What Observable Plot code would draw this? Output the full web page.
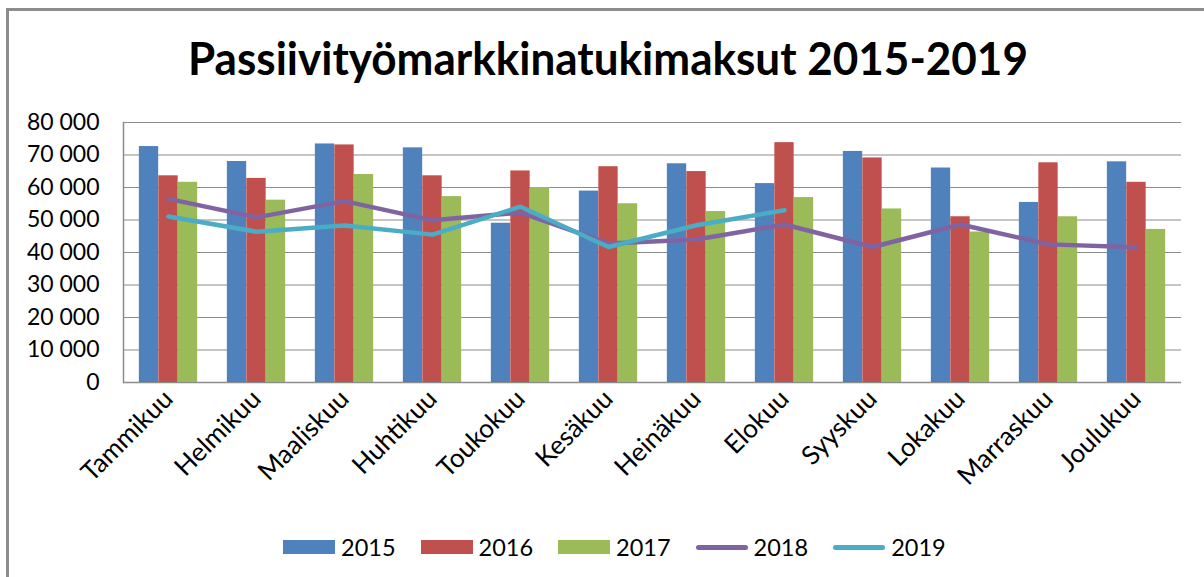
<!DOCTYPE html>
<html><head><meta charset="utf-8">
<script src="https://cdn.jsdelivr.net/npm/d3@7"></script>
<script src="https://cdn.jsdelivr.net/npm/@observablehq/plot@0.6"></script>
<style>
body{margin:0;background:#fff;font-family:Lato,"Open Sans",sans-serif;}
#wrap{position:relative;width:1204px;height:577px;overflow:hidden;background:#fff;}
#border{position:absolute;left:6px;top:8px;width:1400px;height:800px;border-top:3px solid #8c8c8c;border-left:3px solid #8c8c8c;box-sizing:border-box;}
#title{position:absolute;left:6px;top:28px;width:1204px;text-align:center;font-weight:700;font-size:46px;line-height:60px;color:#000;transform:scaleX(0.957);transform-origin:602px 0;}
#chart{position:absolute;left:0;top:100px;}
#legend{position:absolute;left:283px;top:525px;height:44px;display:flex;align-items:center;font-size:23.5px;color:#000;}
.item{display:flex;align-items:center;margin-right:25px;}
.sw{width:52px;height:14px;margin-right:6px;}
.ln{width:52px;height:5px;border-radius:3px;margin-right:6px;}
</style></head>
<body>
<div id="wrap">
<div id="border"></div>
<div id="title">Passiivityömarkkinatukimaksut 2015-2019</div>
<div id="chart"></div>
<div id="legend"></div>
</div>
<script>
const months = ["Tammikuu","Helmikuu","Maaliskuu","Huhtikuu","Toukokuu","Kesäkuu","Heinäkuu","Elokuu","Syyskuu","Lokakuu","Marraskuu","Joulukuu"];
const v2015 = [72600,68000,73400,72200,49000,58900,67300,61200,71100,66000,55400,67900];
const v2016 = [63600,62800,73100,63600,65100,66400,64900,73800,69100,51000,67600,61600];
const v2017 = [61600,56100,64000,57200,60000,55000,52600,56900,53400,46300,51000,47100];
const v2018 = [56500,50800,55800,49900,52300,42800,44000,48600,41700,48600,42500,41600];
const v2019 = [51100,46400,48300,45500,54100,41700,48400,53000];
const yTicks = [0,10000,20000,30000,40000,50000,60000,70000,80000];

const barSeries = [
  {name:"2015", values:v2015, color:"#4F81BD"},
  {name:"2016", values:v2016, color:"#C0504D"},
  {name:"2017", values:v2017, color:"#9BBB59"}
];
const lineSeries = [
  {name:"2018", values:v2018, color:"#8064A2"},
  {name:"2019", values:v2019, color:"#4BACC6"}
];

const W = 1204, H = 425, ML = 123, MR = 23, MT = 22, MB = 143;
const band = (W - ML - MR) / months.length;
const groupFrac = 0.663;
const groupW = band * groupFrac;
const pad = (band - groupW) / 2;
const barW = groupW / barSeries.length;

const fmt = d => d3.format(",")(d).replace(/,/g, " ");

const marks = [
  Plot.gridY(yTicks, {stroke:"#8c8c8c", strokeOpacity:1, strokeWidth:1.2}),
  Plot.ruleY([0], {stroke:"#8c8c8c", strokeWidth:1.5})
];
barSeries.forEach((s, i) => {
  const rows = months.map((m, j) => ({month:m, value:s.values[j]}));
  marks.push(Plot.barY(rows, {
    x:"month", y:"value", fill:s.color,
    insetLeft: pad + i*barW,
    insetRight: band - pad - (i+1)*barW
  }));
});
lineSeries.forEach(s => {
  const rows = s.values.map((v, j) => ({month:months[j], value:v}));
  marks.push(Plot.line(rows, {
    x:"month", y:"value", stroke:s.color, strokeWidth:4.5,
    strokeLinejoin:"round", strokeLinecap:"round"
  }));
});
marks.push(Plot.frame({anchor:"left", stroke:"#8c8c8c", strokeWidth:1.5}));
marks.push(Plot.axisY(yTicks, {tickSize:0, tickPadding:24, tickFormat:fmt, fontSize:23, fill:"#000"}));
marks.push(Plot.axisX({tickSize:0, tickPadding:12, tickRotate:-45, fontSize:26, fill:"#000"}));

const chart = Plot.plot({
  width: W, height: H,
  marginLeft: ML, marginRight: MR, marginTop: MT, marginBottom: MB,
  style: {fontFamily: "Lato, 'Open Sans', sans-serif", background:"transparent", overflow:"visible"},
  x: {type:"band", domain: months, paddingInner:0, paddingOuter:0, label:null},
  y: {domain:[0, 80000], label:null},
  marks
});
document.getElementById("chart").appendChild(chart);

const legend = document.getElementById("legend");
barSeries.forEach(s => {
  const it = document.createElement("div"); it.className = "item";
  it.innerHTML = `<div class="sw" style="background:${s.color}"></div><span>${s.name}</span>`;
  legend.appendChild(it);
});
lineSeries.forEach(s => {
  const it = document.createElement("div"); it.className = "item";
  it.innerHTML = `<div class="ln" style="background:${s.color}"></div><span>${s.name}</span>`;
  legend.appendChild(it);
});
</script>
</body></html>
